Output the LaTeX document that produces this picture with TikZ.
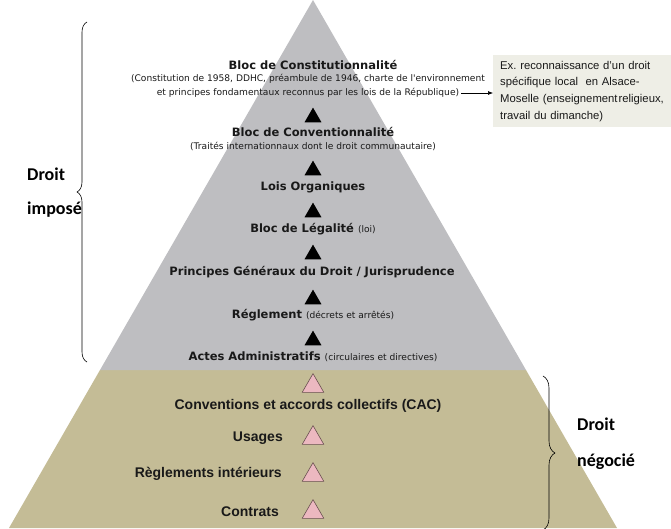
\documentclass[tikz,border=0pt]{standalone}
\usepackage{fontspec}
\setmainfont{Liberation Sans}
\newfontfamily\pyrfont{DejaVu Sans}
\newfontfamily\sidefont{Carlito}
\usetikzlibrary{arrows.meta,shapes.geometric,decorations.pathreplacing}
\frenchspacing

\definecolor{pyrgray}{RGB}{190,190,193}
\definecolor{pyrtan}{RGB}{196,188,150}
\definecolor{notefill}{RGB}{238,238,230}
\definecolor{pinkfill}{RGB}{236,184,192}
\definecolor{pinkline}{RGB}{105,80,80}
\definecolor{txt}{RGB}{25,25,25}

\newcommand\smalltxt[1]{{\mdseries\fontsize{9.1}{11}\selectfont #1}}

\begin{document}
\begin{tikzpicture}[x=1pt,y=-1pt,line cap=round,line join=round,
    level/.style={font=\pyrfont\bfseries\fontsize{11.5}{13}\selectfont,text=txt,inner sep=0pt},
    sublevel/.style={font=\pyrfont\fontsize{9.1}{11}\selectfont,text=txt,inner sep=0pt},
    negotiated/.style={font=\bfseries\fontsize{14}{16}\selectfont,text=txt,inner sep=0pt},
    uptri/.style={regular polygon,regular polygon sides=3,fill=black,minimum size=19.6pt,inner sep=0pt},
    pinktri/.style={regular polygon,regular polygon sides=3,fill=pinkfill,draw=pinkline,line width=0.6pt,minimum size=25pt,inner sep=0pt},
    sidelabel/.style={font=\sidefont\bfseries\fontsize{18}{20}\selectfont,anchor=base west,inner sep=0pt},
    bracket/.style={decorate,decoration={brace,amplitude=#1},line width=0.6pt}
  ]
  \useasboundingbox (0,0) rectangle (671,528);

  % pyramid
  \fill[pyrtan] (100,370) -- (9,528) -- (617,528) -- (526,370) -- cycle;
  \fill[pyrgray] (313,0) -- (100,370) -- (526,370) -- cycle;

  % droit impose
  \node[level] (constit) at (313,65) {Bloc de Constitutionnalité};
  \node[sublevel] (constitA) at (308,79) {(Constitution de 1958, DDHC, préambule de 1946, charte de l'environnement};
  \node[sublevel] (constitB) at (308,93) {et principes fondamentaux reconnus par les lois de la République)};
  \node[level] (convent) at (313,132) {Bloc de Conventionnalité};
  \node[sublevel] (conventA) at (313,146) {(Traités internationnaux dont le droit communautaire)};
  \node[level] (organ) at (313,187) {Lois Organiques};
  \node[level] (legal) at (313,229) {Bloc de Légalité \smalltxt{(loi)}};
  \node[level] (pgd) at (312,272) {Principes Généraux du Droit / Jurisprudence};
  \node[level] (regl) at (313,315) {Réglement \smalltxt{(décrets et arrêtés)}};
  \node[level] (actes) at (313,357) {Actes Administratifs \smalltxt{(circulaires et directives)}};

  \foreach \y [count=\i] in {115,168,210,252,297,338}
    \node[uptri] (up\i) at (313,\y+2.4) {};

  % droit negocie
  \node[pinktri] (neg1) at (313,383+3.1) {};
  \node[negotiated] (cac) at (308,406) {Conventions et accords collectifs (CAC)};
  \node[pinktri] (neg2) at (313,435+3.1) {};
  \node[negotiated,anchor=east] (usages) at (283,438) {Usages};
  \node[pinktri] (neg3) at (313,472+3.1) {};
  \node[negotiated,anchor=east] (reglint) at (282,474) {Règlements intérieurs};
  \node[pinktri] (neg4) at (313,509+3.1) {};
  \node[negotiated,anchor=east] (contrats) at (279,512) {Contrats};

  % note
  \node[anchor=north west,fill=notefill,text width=166pt,inner xsep=7pt,inner ysep=5pt,
        minimum height=72pt,align=left,font=\fontsize{11.3}{16.7}\selectfont,text=txt]
    (note) at (493,55) {Ex. reconnaissance d'un droit\\ spécifique local\ \ en Alsace-\\ Moselle (enseignement\hspace{1pt}religieux,\\ travail du dimanche)};
  \draw[-{Latex[length=5pt,width=4pt]},line width=0.6pt] (constitB.east) ++(2,0) -- (note.west |- constitB.east);

  % braces
  \draw[bracket=10pt] (87,362) -- (87,22);
  \node[sidelabel] (imp1) at (27,180) {Droit};
  \node[sidelabel] (imp2) at (27,214) {imposé};
  \draw[bracket=12pt] (543,376) -- (543,530);
  \node[sidelabel] (neg1l) at (577,430) {Droit};
  \node[sidelabel] (neg2l) at (577,466) {négocié};
\end{tikzpicture}
\end{document}
